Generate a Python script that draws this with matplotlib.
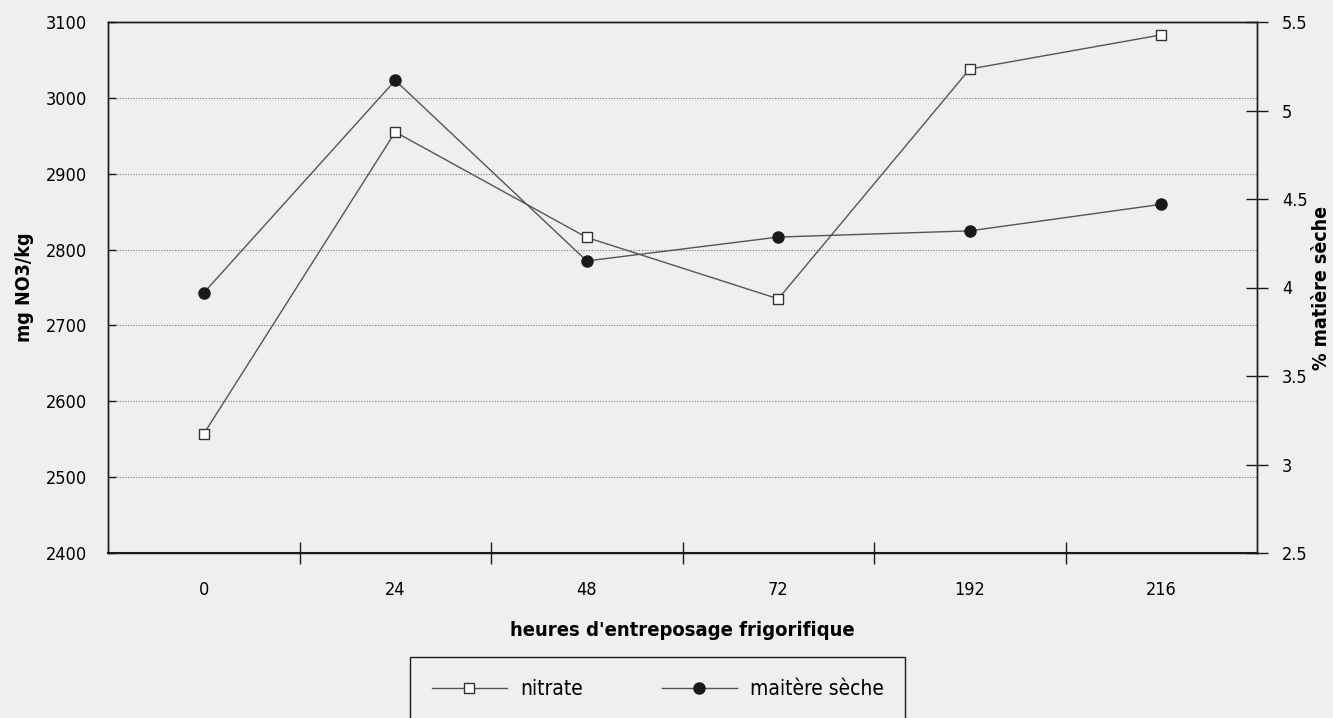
import matplotlib
matplotlib.use("Agg")
import matplotlib.pyplot as plt
from matplotlib.lines import Line2D
import numpy as np

plt.rcParams["font.family"] = ["DejaVu Sans"]
plt.rcParams["font.stretch"] = "condensed"

# data
heures = ["0", "24", "48", "72", "192", "216"]
nitrate = [2557, 2955, 2816, 2735, 3038, 3083]          # mg NO3/kg (left axis)
matiere_seche = [3.97, 5.17, 4.15, 4.285, 4.32, 4.47]   # % (right axis)
left_ticks = [2400, 2500, 2600, 2700, 2800, 2900, 3000, 3100]
right_ticks = [2.5, 3, 3.5, 4, 4.5, 5, 5.5]
right_labels = ["2.5", "3", "3.5", "4", "4.5", "5", "5.5"]

bg = "#efefed"
ink = "#1a1a1a"

fig = plt.figure(figsize=(13.33, 7.18), dpi=100, facecolor=bg)
ax = fig.add_axes([108 / 1333, 1 - 553 / 718, 1149 / 1333, 531 / 718])
ax.set_facecolor(bg)
ax2 = ax.twinx()

x = np.arange(len(heures))
ax.plot(x, nitrate, color="#555555", lw=1.0, marker="s", ms=7,
        mfc="white", mec="#333333", mew=1.0, zorder=3)
ax2.plot(x, matiere_seche, color="#555555", lw=1.0, marker="o", ms=8,
         mfc=ink, mec=ink, zorder=3)

ax.set_xlim(-0.5, len(heures) - 0.5)
ax.set_ylim(2400, 3100)
ax2.set_ylim(2.5, 5.5)

# x axis: labels at category centres, tick marks between categories
ax.set_xticks(x)
ax.set_xticklabels(heures, fontsize=13)
ax.tick_params(axis="x", which="major", length=0, pad=20)
ax.set_xticks(np.arange(0.5, len(heures) - 0.5, 1.0), minor=True)
ax.tick_params(axis="x", which="minor", direction="inout", length=16,
               width=1.0, color=ink)

ax.set_yticks(left_ticks)
ax.set_yticklabels([str(v) for v in left_ticks], fontsize=13)
ax.tick_params(axis="y", direction="in", length=6, width=1.0, color=ink, pad=15)
ax.yaxis.grid(True, linestyle=(0, (1, 1.5)), color="#777777", lw=0.8)
ax.set_axisbelow(True)

ax2.set_yticks(right_ticks)
ax2.set_yticklabels(right_labels, fontsize=13)
ax2.tick_params(axis="y", direction="inout", length=16, width=1.0, color=ink, pad=10)

for a in (ax, ax2):
    for s in a.spines.values():
        s.set_color(ink)
        s.set_linewidth(1.0)
ax.spines["bottom"].set_linewidth(1.5)

ax.set_ylabel("mg NO3/kg", fontsize=14, fontweight="bold")
ax.yaxis.set_label_coords(-0.064, 0.5)
ax2.set_ylabel("% matière sèche", fontsize=14, fontweight="bold")
ax2.yaxis.set_label_coords(1.048, 0.5)
ax.set_xlabel("heures d'entreposage frigorifique", fontsize=14.5,
              fontweight="bold", labelpad=16)

handles = [
    Line2D([], [], color="#555555", lw=1.0, marker="s", ms=7, mfc="white",
           mec="#333333", mew=1.0),
    Line2D([], [], color="#555555", lw=1.0, marker="o", ms=8, mfc=ink, mec=ink),
]
leg = fig.legend(handles, ["nitrate", "maitère sèche"], ncol=2,
                 loc="upper left", bbox_to_anchor=(410 / 1333, 1 - 657 / 718),
                 borderaxespad=0, fontsize=15, handlelength=3.6,
                 handletextpad=0.62, columnspacing=3.8, borderpad=1.05,
                 fancybox=False, frameon=True, edgecolor=ink, facecolor=bg,
                 framealpha=1)
leg.get_frame().set_linewidth(1.0)

fig.savefig("out.png", dpi=100, facecolor=bg)
